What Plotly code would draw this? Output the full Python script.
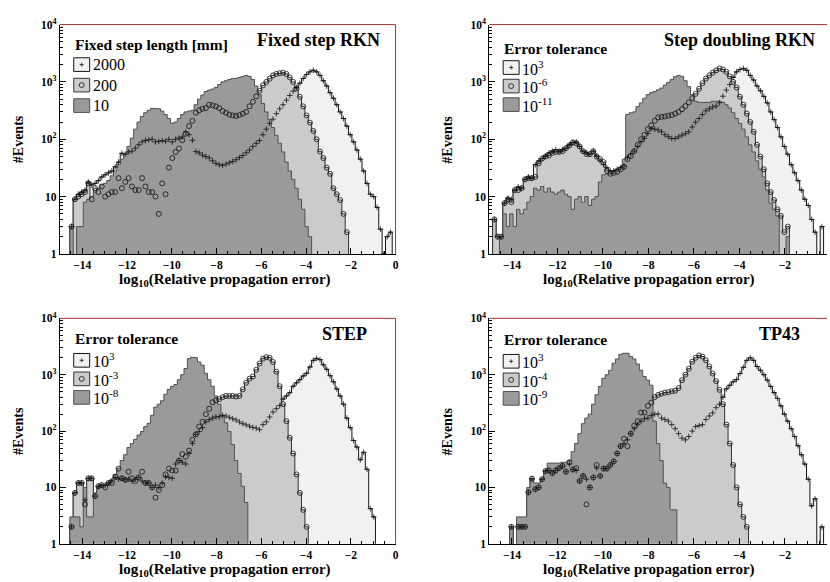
import numpy as np
import plotly.graph_objects as go

# 100 bins of width 0.15 in log10(relative propagation error), -15 ... 0
bin_edges = np.linspace(-15.0, 0.0, 101)
bin_centers = 0.5 * (bin_edges[:-1] + bin_edges[1:])

# ---------------- Fixed step RKN (step length in mm) ----------------
fixed_2000 = [
    0, 0, 0, 3, 9, 11, 12, 13, 18, 16,
    17, 19, 22, 24, 26, 28, 33, 40, 57, 55,
    60, 62, 70, 80, 90, 95, 98, 100, 90, 92,
    95, 92, 100, 90, 100, 105, 110, 133, 120, 96,
    61, 58, 53, 50, 47, 42, 38, 36, 35, 37,
    39, 41, 44, 48, 52, 58, 65, 75, 85, 95,
    120, 150, 190, 225, 280, 340, 400, 480, 580, 690,
    800, 950, 1150, 1350, 1500, 1600, 1500, 1300, 1050, 850,
    650, 520, 400, 300, 230, 170, 120, 90, 65, 45,
    28, 17, 11, 10, 6.5, 2.7, 1, 2, 2.4, 0,
]
fixed_200 = [
    0, 0, 0, 3, 9, 10, 11, 12, 17, 9,
    14, 12, 15, 10, 11, 12, 12, 21, 14, 18,
    21, 15, 13, 13, 21, 15, 12, 12, 10, 5,
    17, 11, 32, 47, 60, 69, 96, 125, 170, 210,
    290, 320, 340, 350, 400, 390, 375, 350, 310, 290,
    270, 260, 255, 265, 280, 300, 375, 450, 560, 700,
    870, 1000, 1140, 1300, 1380, 1420, 1450, 1380, 1200, 1000,
    770, 550, 375, 260, 195, 140, 100, 61, 47, 32,
    25, 14, 11, 8.7, 5, 2.4, 0, 0, 0, 0,
    0, 0, 0, 0, 0, 0, 0, 0, 0, 0,
]
fixed_10 = [
    0, 0, 0, 3, 0, 3, 3, 8, 9, 10,
    12, 14, 16, 17, 19, 23, 28, 36, 45, 55,
    75, 105, 150, 200, 250, 290, 320, 345, 350, 340,
    310, 270, 230, 190, 200, 230, 270, 300, 310, 320,
    400, 500, 590, 680, 720, 750, 800, 900, 1000, 1050,
    1100, 1150, 1150, 1200, 1250, 1300, 1250, 1100, 850, 600,
    420, 300, 220, 160, 117, 85, 60, 40, 28, 20,
    14, 9, 6, 3, 2, 0, 0, 0, 0, 0,
    0, 0, 0, 0, 0, 0, 0, 0, 0, 0,
    0, 0, 0, 0, 0, 0, 0, 0, 0, 0,
]

# ---------------- Step doubling RKN (error tolerance) ----------------
doubling_1e3 = [
    0, 4, 2, 2, 7.7, 9.4, 9, 13, 14.8, 14,
    20, 22, 21, 36, 42, 46, 51, 58, 62, 66,
    62, 66, 70, 80, 88, 90, 75, 62, 58, 55,
    62, 51, 42, 36, 32, 28, 28, 30, 32, 34,
    48, 55, 62, 75, 90, 103, 126, 153, 150, 145,
    135, 120, 111, 103, 103, 110, 118, 125, 135, 164,
    199, 230, 270, 314, 340, 365, 380, 434, 563, 720,
    900, 1200, 1500, 1650, 1720, 1600, 1300, 1080, 850, 700,
    560, 430, 300, 220, 160, 110, 75, 55, 36, 26,
    19, 13, 9, 7, 4, 2.4, 0, 3, 0, 0,
]
doubling_1e6 = [
    0, 4, 2, 2, 7.7, 9, 8, 13, 13, 14,
    20, 21, 21, 22, 38, 46, 50, 52, 58, 60,
    60, 62, 70, 78, 88, 85, 75, 62, 55, 55,
    62, 50, 45, 40, 28, 25, 26, 27, 30, 33,
    45, 51, 62, 80, 100, 120, 150, 175, 210, 240,
    245, 250, 258, 265, 280, 300, 335, 380, 440, 520,
    620, 760, 950, 1140, 1300, 1450, 1590, 1720, 1650, 1500,
    1250, 1000, 800, 550, 400, 280, 200, 135, 80, 50,
    30, 17, 12, 8.7, 6, 4.6, 2.4, 3, 0, 0,
    0, 0, 0, 0, 0, 0, 0, 0, 0, 0,
]
doubling_1e11 = [
    0, 0, 0, 2, 5, 3, 5, 3, 6, 5,
    6, 8, 10, 14, 13, 15, 12, 14, 12, 11,
    12, 13, 11, 10, 6, 9, 10, 8, 10, 7,
    9, 10, 18, 24, 25, 25, 28, 30, 32, 45,
    270, 290, 300, 370, 430, 520, 600, 650, 680, 730,
    780, 880, 980, 1100, 1230, 1300, 1250, 1050, 830, 600,
    460, 440, 430, 430, 440, 460, 470, 460, 440, 400,
    350, 290, 230, 190, 150, 110, 80, 60, 42, 30,
    22, 13, 7.7, 6, 4.6, 0, 0, 2, 0, 0,
    0, 0, 0, 0, 0, 0, 0, 0, 0, 0,
]

# ---------------- STEP (error tolerance) ----------------
step_1e3 = [
    0, 0, 0, 2, 8, 12, 12, 6, 14.5, 14.5,
    7, 10.5, 11, 11, 12, 13, 15, 14, 14.5, 13.6,
    14, 13, 14, 15, 13, 12, 12, 10, 11, 10,
    12, 15.5, 15, 14.5, 26, 30, 28, 26, 40, 60,
    87, 98, 115, 146, 160, 170, 178, 180, 190, 185,
    175, 165, 157, 145, 135, 129, 122, 116, 113, 106,
    130, 146, 178, 218, 250, 283, 370, 420, 480, 625,
    720, 815, 950, 1060, 1370, 1800, 1950, 1850, 1500, 1250,
    960, 750, 560, 420, 300, 170, 115, 68, 52, 31,
    42, 21, 4.2, 3, 0, 0, 0, 0, 0, 0,
]
step_1e_3 = [
    0, 0, 0, 2, 8, 12, 12, 5, 14.5, 14.5,
    7, 10.5, 11, 10, 12, 12, 15.5, 21.6, 14.5, 13.6,
    19, 14.5, 13, 15, 19, 12, 12, 10, 6.6, 9,
    11, 17, 21.6, 20, 20, 30, 39, 35, 45, 70,
    87, 120, 146, 200, 250, 324, 350, 370, 400, 420,
    420, 420, 410, 420, 550, 720, 850, 930, 1220, 1580,
    1930, 2050, 2000, 1680, 1130, 625, 300, 150, 76, 40,
    17, 8, 4, 2, 0, 0, 0, 0, 0, 0,
    0, 0, 0, 0, 0, 0, 0, 0, 0, 0,
    0, 0, 0, 0, 0, 0, 0, 0, 0, 0,
]
step_1e_8 = [
    0, 0, 0, 3, 3, 3, 2, 10, 3, 3,
    8, 10, 10, 11, 12, 14, 17, 22, 30, 38,
    51, 60, 71, 85, 98, 120, 137, 190, 265, 300,
    345, 450, 550, 620, 670, 815, 1000, 1290, 1930, 2050,
    2000, 1680, 1480, 1060, 815, 625, 420, 300, 190, 140,
    98, 58, 30, 17.7, 10.5, 5.4, 0, 0, 0, 0,
    0, 0, 0, 0, 0, 0, 0, 0, 0, 0,
    0, 0, 0, 0, 0, 0, 0, 0, 0, 0,
    0, 0, 0, 0, 0, 0, 0, 0, 0, 0,
    0, 0, 0, 0, 0, 0, 0, 0, 0, 0,
]

# ---------------- TP43 (error tolerance) ----------------
tp43_1e3 = [
    0, 0, 0, 0, 0, 0, 2, 0, 2, 2,
    2, 8.2, 14.3, 9.3, 10, 14, 19.5, 20, 18, 20,
    22, 24, 19, 26, 20.8, 20, 13, 16, 14, 10,
    15, 22, 16, 21.6, 21.6, 25, 29, 40, 54, 60,
    70, 90, 110, 130, 150, 165, 170, 190, 200, 200,
    170, 160, 150, 130, 110, 90, 75, 70, 80, 100,
    120, 125, 130, 160, 185, 210, 260, 300, 400, 560,
    650, 750, 820, 1050, 1350, 1800, 2000, 1800, 1400, 1200,
    1000, 800, 620, 480, 380, 280, 200, 150, 110, 80,
    55, 38, 26, 14, 4.7, 6.3, 0, 2, 0, 0,
]
tp43_1e_4 = [
    0, 0, 0, 0, 0, 0, 2, 0, 2, 2,
    2, 8.2, 14.3, 9.3, 10, 14, 19.5, 20, 18, 20,
    22, 24, 19, 28, 20.8, 22, 13, 16, 5, 10,
    15, 25, 16, 21.6, 21.6, 25, 29, 40, 54, 73,
    54, 90, 125, 150, 213, 213, 280, 320, 400, 440,
    460, 480, 490, 510, 520, 580, 800, 1000, 1280, 1700,
    2000, 2200, 2100, 1800, 1400, 1050, 770, 540, 300, 130,
    60, 25, 10, 5, 3, 2, 0, 0, 0, 0,
    0, 0, 0, 0, 0, 0, 0, 0, 0, 0,
    0, 0, 0, 0, 0, 0, 0, 0, 0, 0,
]
tp43_1e_9 = [
    0, 0, 0, 0, 0, 0, 2, 0, 3, 3,
    3, 10, 14, 12, 12, 14, 20, 27, 27, 27,
    27, 28, 28, 30, 43, 60, 90, 135, 170, 200,
    300, 440, 620, 860, 1000, 1200, 1600, 1900, 2300, 2400,
    2400, 2100, 1900, 1550, 1200, 930, 800, 650, 150, 60,
    30, 12, 10, 4, 4, 0, 0, 0, 0, 0,
    0, 0, 0, 0, 0, 0, 0, 0, 0, 0,
    0, 0, 0, 0, 0, 0, 0, 0, 0, 0,
    0, 0, 0, 0, 0, 0, 0, 0, 0, 0,
    0, 0, 0, 0, 0, 0, 0, 0, 0, 0,
]

panel_titles = ["Fixed step RKN", "Step doubling RKN", "STEP", "TP43"]
legend_headers = ["Fixed step length [mm]", "Error tolerance", "Error tolerance", "Error tolerance"]
legend_labels = [
    ["2000", "200", "10"],
    ["10<sup>3</sup>", "10<sup>-6</sup>", "10<sup>-11</sup>"],
    ["10<sup>3</sup>", "10<sup>-3</sup>", "10<sup>-8</sup>"],
    ["10<sup>3</sup>", "10<sup>-4</sup>", "10<sup>-9</sup>"],
]
panel_series = [
    (fixed_2000, fixed_200, fixed_10),
    (doubling_1e3, doubling_1e6, doubling_1e11),
    (step_1e3, step_1e_3, step_1e_8),
    (tp43_1e3, tp43_1e_4, tp43_1e_9),
]

# ---------------- page geometry (pixels) ----------------
W, H = 830, 582
FONT = "Liberation Serif, Times New Roman, serif"
# (left, right, top, bottom, x range end)
frames = [
    (60, 397, 17, 252, 0.0),
    (491, 830, 17, 252, -0.15),
    (60, 397, 318, 549, 0.0),
    (491, 830, 318, 549, -0.15),
]
xtitle_centers = [226, 651, 226, 651]
title_right = [383, 820, 370, 805]
legend_rows = [(20, [41, 62, 83]), (24, [44, 63, 82]),
               (21, [43, 62, 81]), (22, [44, 63, 82])]

fills = ["#f1f1f1", "#cbcbcb", "#9a9a9a"]
edges_col = ["#151515", "#333333", "#505050"]
symbols = ["cross-thin", "circle-open", None]


def px(x):
    return x / W


def py(y):
    return 1 - y / H


def step_outline(vals, floor=0.1):
    xs, ys = [bin_edges[0]], [floor]
    for lo, hi, v in zip(bin_edges[:-1], bin_edges[1:], vals):
        h = v if v > 0 else floor
        xs += [lo, hi]
        ys += [h, h]
    xs.append(bin_edges[-1])
    ys.append(floor)
    return xs, ys


fig = go.Figure()
shapes, annotations = [], []
log_minor = [m * 10 ** d for d in range(4) for m in range(2, 10)]

for k, (l, r, t, b, xend) in enumerate(frames):
    ax = "" if k == 0 else str(k + 1)
    series = panel_series[k]
    for s in range(3):
        assert len(series[s]) == 100
        xs, ys = step_outline(series[s])
        fig.add_trace(go.Scatter(
            x=xs, y=ys, mode="lines", fill="toself", fillcolor=fills[s],
            line=dict(color=edges_col[s], width=1), hoverinfo="skip",
            showlegend=False, xaxis="x" + ax, yaxis="y" + ax))
    for s in range(2):
        vals = np.array(series[s], dtype=float)
        keep = vals > 0
        fig.add_trace(go.Scatter(
            x=bin_centers[keep], y=vals[keep], mode="markers",
            marker=dict(symbol=symbols[s], size=4 if s == 0 else 5, color="#111111",
                        line=dict(color="#111111", width=0.8)),
            hoverinfo="skip", showlegend=False, xaxis="x" + ax, yaxis="y" + ax))

    fig.update_layout(**{
        "xaxis" + ax: dict(
            domain=[px(l), px(r)], anchor="y" + ax, range=[-15, xend],
            tickmode="linear", tick0=0, dtick=2, ticks="inside", ticklen=6,
            tickcolor="black", showline=True, linecolor="black", linewidth=1,
            showgrid=False, zeroline=False,
            tickfont=dict(family=FONT, size=11.5, color="black", weight="bold"),
            minor=dict(ticks="inside", tick0=0, dtick=0.5, ticklen=3, tickcolor="black"),
        ),
        "yaxis" + ax: dict(
            domain=[py(b), py(t)], anchor="x" + ax, type="log", range=[0, 4],
            tickmode="array", tickvals=[1, 10, 100, 1000, 10000],
            ticktext=["1", "10", "10<sup>2</sup>", "10<sup>3</sup>", "10<sup>4</sup>"],
            ticks="inside", ticklen=6, tickcolor="black",
            showline=True, linecolor="black", linewidth=1, showgrid=False, zeroline=False,
            tickfont=dict(family=FONT, size=11.5, color="black", weight="bold"),
            minor=dict(ticks="inside", tickmode="array", tickvals=log_minor,
                       ticklen=3, tickcolor="black"),
        ),
    })

    # red top / right frame lines (ROOT pad frame)
    shapes.append(dict(type="line", xref="paper", yref="paper", x0=px(l), x1=px(r),
                       y0=py(t), y1=py(t), line=dict(color="#a83232", width=1)))
    if r < W:
        shapes.append(dict(type="line", xref="paper", yref="paper", x0=px(r), x1=px(r),
                           y0=py(t), y1=py(b), line=dict(color="#a83232", width=1)))

    # panel title
    annotations.append(dict(text="<b>%s</b>" % panel_titles[k], xref="paper", yref="paper",
                            x=px(title_right[k]), y=py(t + 16), xanchor="right", yanchor="middle",
                            showarrow=False, font=dict(family=FONT, size=18, color="black")))
    # axis titles
    annotations.append(dict(text="<b>log<sub>10</sub>(Relative propagation error)</b>",
                            xref="paper", yref="paper", x=px(xtitle_centers[k]), y=py(b + 27),
                            xanchor="center", yanchor="middle", showarrow=False,
                            font=dict(family=FONT, size=15, color="black")))
    annotations.append(dict(text="<b>#Events</b>", xref="paper", yref="paper",
                            x=px(l - 42), y=py((t + b) / 2), textangle=-90,
                            xanchor="center", yanchor="middle", showarrow=False,
                            font=dict(family=FONT, size=14, color="black")))

    # legend
    head_dy, rows = legend_rows[k]
    annotations.append(dict(text="<b>%s</b>" % legend_headers[k], xref="paper", yref="paper",
                            x=px(l + 13), y=py(t + head_dy), xanchor="left", yanchor="middle",
                            showarrow=False, font=dict(family=FONT, size=15.5, color="black")))
    for s, dy in enumerate(rows):
        cx, cy = l + 22, t + dy
        shapes.append(dict(type="rect", xref="paper", yref="paper",
                           x0=px(cx - 8), x1=px(cx + 8), y0=py(cy + 7), y1=py(cy - 7),
                           fillcolor=fills[s], line=dict(color=edges_col[s], width=1)))
        if s == 0:
            shapes.append(dict(type="line", xref="paper", yref="paper", x0=px(cx - 2),
                               x1=px(cx + 2), y0=py(cy), y1=py(cy),
                               line=dict(color="#111111", width=0.8)))
            shapes.append(dict(type="line", xref="paper", yref="paper", x0=px(cx), x1=px(cx),
                               y0=py(cy - 2), y1=py(cy + 2),
                               line=dict(color="#111111", width=0.8)))
        elif s == 1:
            shapes.append(dict(type="circle", xref="paper", yref="paper", x0=px(cx - 2.5),
                               x1=px(cx + 2.5), y0=py(cy + 2.5), y1=py(cy - 2.5),
                               line=dict(color="#111111", width=0.8)))
        annotations.append(dict(text=legend_labels[k][s], xref="paper", yref="paper",
                                x=px(cx + 9), y=py(cy), xanchor="left", yanchor="middle",
                                showarrow=False, font=dict(family=FONT, size=16, color="black")))

fig.update_layout(
    width=W, height=H, margin=dict(l=0, r=0, t=0, b=0),
    paper_bgcolor="white", plot_bgcolor="white",
    shapes=shapes, annotations=annotations, showlegend=False,
)

fig.write_html("out.html", config={"displayModeBar": False},
               post_script="document.body.style.margin='0';")
